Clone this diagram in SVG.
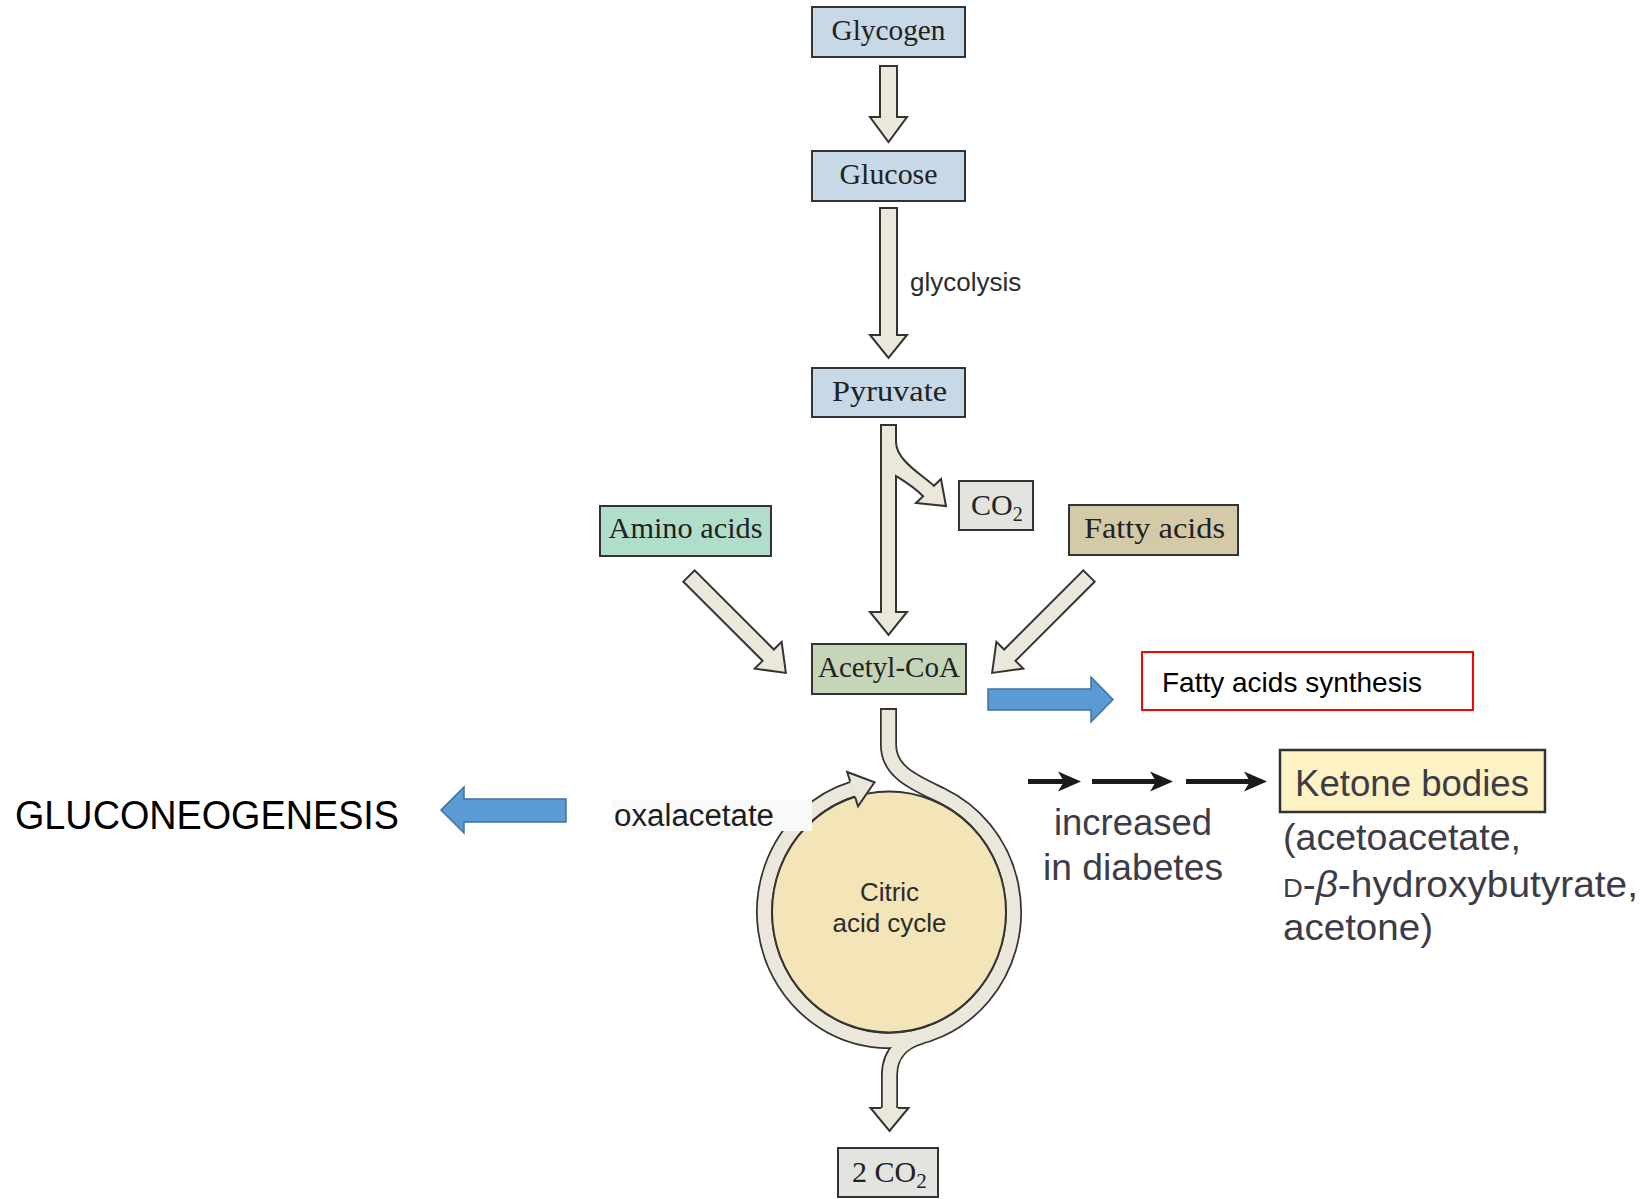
<svg xmlns="http://www.w3.org/2000/svg" width="1647" height="1199" viewBox="0 0 1647 1199">
  <style>
    .box { stroke: #333; stroke-width: 2; }
    .blue-box { fill: #c7d8e6; }
    .lbl { font-family: "Liberation Serif", "Times New Roman", serif; font-size: 30px; fill: #222; text-anchor: middle; }
    .sans { font-family: "Liberation Sans", Arial, sans-serif; }
    .flow { fill: #ebe7da; stroke: #333; stroke-width: 2; stroke-linejoin: miter; }
    .band-edge { fill: none; stroke: #333; stroke-width: 17; }
    .band-fill { fill: none; stroke: #ebe7da; stroke-width: 13.5; }
    .blue { fill: #5b9bd5; stroke: #41719c; stroke-width: 1.5; }
    .ket { fill: #3d3c46; font-family: "Liberation Sans", Arial, sans-serif; font-size: 37px; }
    .ket-arrow { stroke: #1a1a1a; stroke-width: 5; fill: none; }
    .ket-head { fill: #1a1a1a; }
  </style>

  <rect width="1647" height="1199" fill="#ffffff"/>

  <!-- connectors -->
  <g id="connectors">
    <!-- Glycogen to Glucose -->
    <path class="flow" d="M880,66 H897 V117 H907 L888.5,142 L870,117 H880 Z"/>
    <!-- Glucose to Pyruvate (glycolysis) -->
    <path class="flow" d="M880,208 H897 V335 H907 L888.5,358 L870,335 H880 Z"/>
    <!-- Pyruvate to Acetyl-CoA with CO2 branch -->
    <path class="flow" d="M881,425 H896 V442 C896,460 921,474 933.9,485.8 L941,479 L946,506 L916,503 L923.1,496.2 C914,487 904,481 896,476 V612 H907 L888.5,635 L870,612 H881 Z"/>
    <!-- Amino acids to Acetyl-CoA -->
    <path class="flow" transform="translate(689,576) rotate(-45)" d="M-8,0 H8 V112 H19 L0,137 L-19,112 H-8 Z"/>
    <!-- Fatty acids to Acetyl-CoA -->
    <path class="flow" transform="translate(1089,576) rotate(45)" d="M-8,0 H8 V112 H19 L0,137 L-19,112 H-8 Z"/>

    <!-- citric acid cycle band: entry from Acetyl-CoA, ring, exit to 2 CO2 -->
    <path class="band-edge" d="M888.5,708 V745 C888.5,772 914.58,782.53 941.61,795.54 A124.5,128.5 0 1 1 852.6,789.12"/>
    <path class="band-edge" d="M921.22,1036.12 C906.8,1040.1 889.5,1051 889.5,1075 V1108"/>
    <path class="band-fill" d="M888.5,710 V745 C888.5,772 914.58,782.53 941.61,795.54 A124.5,128.5 0 1 1 852.6,789.12"/>
    <path class="band-fill" d="M921.22,1036.12 C906.8,1040.1 889.5,1051 889.5,1075 V1108"/>

    <!-- blue block arrows -->
    <path class="blue" d="M988,689 H1091 V677 L1113,699.5 L1091,722 V710 H988 Z"/>
    <path class="blue" d="M566,799 H464 V787 L441,810 L464,833 V822 H566 Z"/>

    <!-- ketone body arrows -->
    <line class="ket-arrow" x1="1028" y1="781.5" x2="1064" y2="781.5"/>
    <path class="ket-head" d="M1081,781.5 L1058,771.5 L1064,781.5 L1058,791.5 Z"/>
    <line class="ket-arrow" x1="1092" y1="781.5" x2="1156" y2="781.5"/>
    <path class="ket-head" d="M1173,781.5 L1150,771.5 L1156,781.5 L1150,791.5 Z"/>
    <line class="ket-arrow" x1="1186" y1="781.5" x2="1250" y2="781.5"/>
    <path class="ket-head" d="M1267,781.5 L1244,771.5 L1250,781.5 L1244,791.5 Z"/>
  </g>

  <!-- nodes -->
  <g id="glycogen">
    <rect class="box blue-box" x="812" y="7" width="153" height="50"/>
    <text class="lbl" x="888.5" y="40" textLength="114" lengthAdjust="spacingAndGlyphs">Glycogen</text>
  </g>

  <g id="glucose">
    <rect class="box blue-box" x="812" y="151" width="153" height="50"/>
    <text class="lbl" x="888.5" y="184" textLength="98" lengthAdjust="spacingAndGlyphs">Glucose</text>
  </g>

  <g id="glycolysis-label">
    <text class="sans" x="910" y="291" font-size="26" fill="#2b2b2b">glycolysis</text>
  </g>

  <g id="pyruvate">
    <rect class="box blue-box" x="812" y="368" width="153" height="49"/>
    <text class="lbl" x="889.5" y="401" textLength="115" lengthAdjust="spacingAndGlyphs">Pyruvate</text>
  </g>

  <g id="co2">
    <rect class="box" fill="#e3e3df" x="959" y="481" width="74" height="49"/>
    <text class="lbl" x="971" y="515" style="text-anchor:start">CO<tspan font-size="20" dy="6">2</tspan></text>
  </g>

  <g id="amino-acids">
    <rect class="box" fill="#b1ddcb" x="600" y="506" width="171" height="50"/>
    <text class="lbl" x="685.5" y="538" textLength="154" lengthAdjust="spacingAndGlyphs">Amino acids</text>
  </g>

  <g id="fatty-acids">
    <rect class="box" fill="#d4caa8" x="1069" y="505" width="169" height="50"/>
    <text class="lbl" x="1154.5" y="538" textLength="141" lengthAdjust="spacingAndGlyphs">Fatty acids</text>
  </g>

  <g id="acetyl-coa">
    <rect class="box" fill="#c5d5b7" x="812" y="644" width="154" height="50"/>
    <text class="lbl" x="889" y="677" textLength="142" lengthAdjust="spacingAndGlyphs">Acetyl-CoA</text>
  </g>

  <g id="citric-acid-cycle">
    <ellipse class="box" fill="#f3e5b7" cx="889" cy="912" rx="117" ry="120.5"/>
    <!-- arrowhead closing the ring onto oxaloacetate -->
    <path class="flow" d="M855.01,796.75 L858.02,806.28 L874.53,782.2 L847.18,771.96 L850.19,781.49"/>
    <text class="sans" x="889.5" y="901" font-size="26" fill="#2b2b2b" text-anchor="middle">Citric</text>
    <text class="sans" x="889.5" y="932" font-size="26" fill="#2b2b2b" text-anchor="middle">acid cycle</text>
  </g>

  <g id="two-co2">
    <!-- arrowhead of the exit flow -->
    <path class="flow" d="M898,1108 L908.5,1108 L889.5,1131 L870.5,1108 L881,1108"/>
    <rect class="box" fill="#e3e3df" x="838" y="1148" width="100" height="49"/>
    <text class="lbl" x="852" y="1182" style="text-anchor:start">2 CO<tspan font-size="21" dy="6">2</tspan></text>
  </g>

  <g id="oxalacetate">
    <rect x="612" y="800" width="200" height="31" fill="#f9f9fa"/>
    <text class="sans" x="614" y="826" font-size="31" fill="#1e1e1e" textLength="160" lengthAdjust="spacingAndGlyphs">oxalacetate</text>
  </g>

  <g id="gluconeogenesis">
    <text class="sans" x="15" y="829" font-size="40" fill="#000" textLength="384" lengthAdjust="spacingAndGlyphs">GLUCONEOGENESIS</text>
  </g>

  <g id="fatty-acid-synthesis">
    <rect x="1142" y="652" width="331" height="58" fill="#fff" stroke="#ff0000" stroke-width="2"/>
    <text class="sans" x="1162" y="692" font-size="28" fill="#000">Fatty acids synthesis</text>
  </g>

  <g id="diabetes-label">
    <text class="ket" x="1133" y="835" text-anchor="middle" textLength="158" lengthAdjust="spacingAndGlyphs">increased</text>
    <text class="ket" x="1133" y="880" text-anchor="middle" textLength="180" lengthAdjust="spacingAndGlyphs">in diabetes</text>
  </g>

  <g id="ketone-bodies">
    <rect x="1280" y="750" width="265" height="62" fill="#fdf2c4" stroke="#333" stroke-width="2.5"/>
    <text class="ket" x="1295" y="796" textLength="234" lengthAdjust="spacingAndGlyphs">Ketone bodies</text>
    <text class="ket" x="1283" y="850" textLength="238" lengthAdjust="spacingAndGlyphs">(acetoacetate,</text>
    <text class="ket" x="1283" y="897" textLength="355" lengthAdjust="spacingAndGlyphs"><tspan font-size="26">D</tspan>-<tspan font-style="italic">β</tspan>-hydroxybutyrate,</text>
    <text class="ket" x="1283" y="940" textLength="150" lengthAdjust="spacingAndGlyphs">acetone)</text>
  </g>
</svg>
